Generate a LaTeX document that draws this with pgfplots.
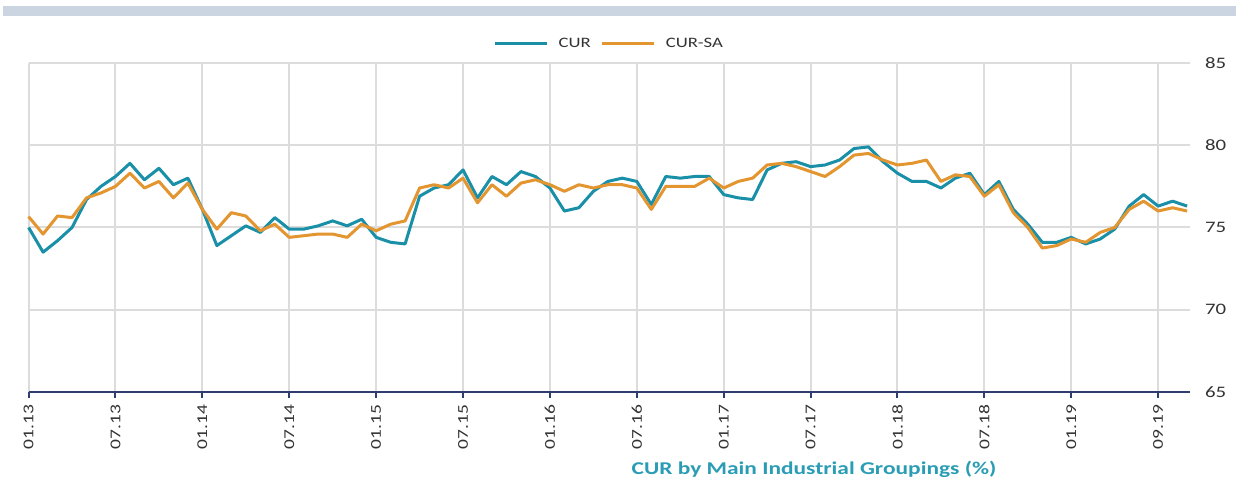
\documentclass[border=0pt]{standalone}
\usepackage{fontspec}
\setmainfont{Carlito}
\newfontfamily\chartfont[FakeStretch=1.3]{Carlito}
\usepackage{pgfplots}
\pgfplotsset{compat=1.18}
\definecolor{curblue}{HTML}{1A8FA8}
\definecolor{curorange}{HTML}{E39530}
\definecolor{gridgray}{HTML}{DCDCDC}
\definecolor{axisnavy}{HTML}{2F3E6E}
\definecolor{ticktext}{HTML}{333333}
\definecolor{titleteal}{HTML}{2A9DB5}
\definecolor{barslate}{HTML}{CBD5E2}
\begin{document}
\begin{tikzpicture}
\path[use as bounding box, fill=white] (0pt,0pt) rectangle (621.5pt,242.5pt);
\fill[barslate] (1.5pt,234.5pt) rectangle (618pt,239.5pt);
\begin{axis}[
  at={(14.3pt,46.5pt)}, anchor=south west,
  scale only axis, width=580.7pt, height=164.5pt,
  xmin=0, xmax=80.2, ymin=65, ymax=85,
  /pgf/number format/assume math mode=true,
  axis x line*=bottom,
  axis y line*=right,
  y axis line style={draw=none},
  ytick style={draw=none},
  ytick={65,70,75,80,85},
  grid=both,
  grid style={gridgray, line width=1pt},
  xtick={0,6,12,18,24,30,36,42,48,54,60,66,72,78},
  xticklabels={01.13,07.13,01.14,07.14,01.15,07.15,01.16,07.16,01.17,07.17,01.18,07.18,01.19,09.19},
  x axis line style={axisnavy, line width=1pt, -},
  xtick style={axisnavy, line width=1pt},
  tick align=outside,
  major tick length=3pt,
  xticklabel style={rotate=90, anchor=east, font=\chartfont\fontsize{7.5}{8}\selectfont, text=ticktext},
  yticklabel style={anchor=west, xshift=1pt, font=\chartfont\fontsize{8}{9}\selectfont, text=ticktext},
  legend style={at={(axis description cs:0.5,1.058)}, anchor=center, draw=none, fill=none,
     font=\chartfont\fontsize{7.2}{8}\selectfont, text=ticktext, column sep=4pt,
     nodes={inner xsep=1pt}},
  legend columns=2,
  legend image code/.code={\draw[#1, line width=1.5pt] (0pt,0pt) -- (26pt,0pt);},
  every axis plot/.append style={line width=1.5pt, line join=round},
  clip=false,
]
\addplot[curblue, mark=none] coordinates {
(0,75.0)(1,73.5)(2,74.2)(3,75.0)(4,76.7)(5,77.5)(6,78.1)(7,78.9)(8,77.9)(9,78.6)
(10,77.6)(11,78.0)(12,76.1)(13,73.9)(14,74.5)(15,75.1)(16,74.7)(17,75.6)(18,74.9)(19,74.9)
(20,75.1)(21,75.4)(22,75.1)(23,75.5)(24,74.4)(25,74.1)(26,74.0)(27,76.9)(28,77.4)(29,77.6)
(30,78.5)(31,76.8)(32,78.1)(33,77.6)(34,78.4)(35,78.1)(36,77.4)(37,76.0)(38,76.2)(39,77.2)
(40,77.8)(41,78.0)(42,77.8)(43,76.4)(44,78.1)(45,78.0)(46,78.1)(47,78.1)(48,77.0)(49,76.8)
(50,76.7)(51,78.5)(52,78.9)(53,79.0)(54,78.7)(55,78.8)(56,79.1)(57,79.8)(58,79.9)(59,79.0)
(60,78.3)(61,77.8)(62,77.8)(63,77.4)(64,78.0)(65,78.3)(66,77.0)(67,77.8)(68,76.1)(69,75.2)
(70,74.1)(71,74.1)(72,74.4)(73,74.0)(74,74.3)(75,74.9)(76,76.3)(77,77.0)(78,76.3)(79,76.6)
(80,76.3)};
\addlegendentry{CUR}
\addplot[curorange, mark=none] coordinates {
(0,75.66)(1,74.6)(2,75.7)(3,75.6)(4,76.8)(5,77.1)(6,77.5)(7,78.3)(8,77.4)(9,77.8)
(10,76.8)(11,77.7)(12,76.1)(13,74.9)(14,75.9)(15,75.7)(16,74.8)(17,75.2)(18,74.4)(19,74.5)
(20,74.6)(21,74.6)(22,74.4)(23,75.2)(24,74.8)(25,75.2)(26,75.4)(27,77.4)(28,77.6)(29,77.4)
(30,78.0)(31,76.5)(32,77.6)(33,76.9)(34,77.7)(35,77.9)(36,77.6)(37,77.2)(38,77.6)(39,77.4)
(40,77.6)(41,77.6)(42,77.4)(43,76.1)(44,77.5)(45,77.5)(46,77.5)(47,78.0)(48,77.4)(49,77.8)
(50,78.0)(51,78.8)(52,78.9)(53,78.7)(54,78.4)(55,78.1)(56,78.7)(57,79.4)(58,79.5)(59,79.1)
(60,78.8)(61,78.9)(62,79.1)(63,77.8)(64,78.2)(65,78.1)(66,76.9)(67,77.6)(68,75.9)(69,75.0)
(70,73.75)(71,73.9)(72,74.3)(73,74.1)(74,74.7)(75,75.0)(76,76.1)(77,76.6)(78,76.0)(79,76.2)
(80,76.0)};
\addlegendentry{CUR-SA}
\end{axis}
\node[anchor=base, text=titleteal, font=\chartfont\bfseries\fontsize{9}{10}\selectfont] at (407pt,5pt) {CUR by Main Industrial Groupings (\%)};
\end{tikzpicture}
\end{document}
